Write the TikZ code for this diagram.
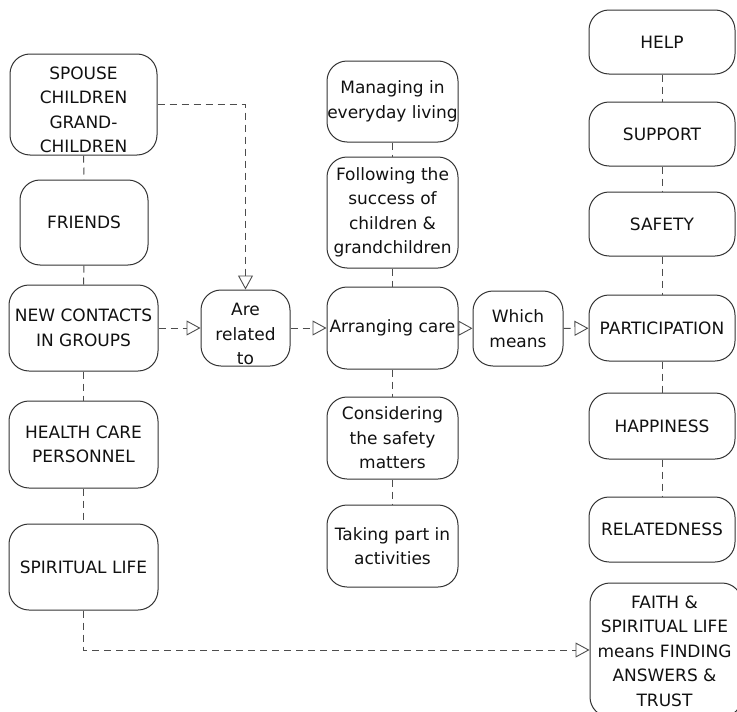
\documentclass[tikz,border=0pt]{standalone}
\usepackage{fontspec}
\setmainfont{DejaVu Sans}
\usetikzlibrary{arrows.meta}
\definecolor{boxc}{HTML}{333333}
\definecolor{linec}{HTML}{4D4D4D}
\definecolor{txtc}{HTML}{111111}
\begin{document}
\begin{tikzpicture}[x=1pt, y=-1pt,
  every node/.style={text=txtc, font=\fontsize{17}{24.5}\selectfont, align=center},
  box/.style={draw=boxc, line width=1pt, rounded corners=20pt, inner sep=0pt},
  label text/.style={inner sep=0pt},
  link/.style={draw=linec, line width=1pt, dash pattern=on 7pt off 5pt},
  arr/.style={link, -{Triangle[open, length=14pt, width=15pt, line width=0.9pt]}}]
\useasboundingbox (0,0) rectangle (737,712);
\clip (0,0) rectangle (737,712);

% left column: relations
\node[box, minimum width=147, minimum height=101] (spouse) at (83.5,104.5) {};
\node[label text] (spouse-t) at (83.5,110) {SPOUSE\\CHILDREN\\GRAND-\\CHILDREN};
\node[box, minimum width=128, minimum height=85] (friends) at (84,222.5) {FRIENDS};
\node[box, minimum width=149, minimum height=86] (contacts) at (83.5,328) {NEW CONTACTS\\IN GROUPS};
\node[box, minimum width=149, minimum height=87] (health) at (83.5,444.5) {HEALTH CARE\\PERSONNEL};
\node[box, minimum width=149, minimum height=86] (spiritual) at (83.5,567) {SPIRITUAL LIFE};

% linking boxes
\node[box, minimum width=89, minimum height=76] (related) at (245.5,328) {};
\node[label text] (related-t) at (245.5,334) {Are\\related\\to};
\node[box, minimum width=90, minimum height=75] (which) at (518,328.5) {Which\\means};

% middle column: activities
\node[box, minimum width=131, minimum height=81] (managing) at (392.5,101.5) {Managing in\\everyday living};
\node[box, minimum width=131, minimum height=111] (following) at (392.5,212.5) {Following the\\success of\\children \&\\grandchildren};
\node[box, minimum width=131, minimum height=82] (arranging) at (392.5,328) {Arranging care};
\node[box, minimum width=131, minimum height=82] (considering) at (392.5,438) {Considering\\the safety\\matters};
\node[box, minimum width=131, minimum height=82] (taking) at (392.5,546) {Taking part in\\activities};

% right column: meanings
\node[box, minimum width=146, minimum height=64] (help) at (662,42) {HELP};
\node[box, minimum width=146, minimum height=64] (support) at (662,134) {SUPPORT};
\node[box, minimum width=146, minimum height=64] (safety) at (662,224) {SAFETY};
\node[box, minimum width=146, minimum height=66] (participation) at (662,328) {PARTICIPATION};
\node[box, minimum width=146, minimum height=66] (happiness) at (662,426) {HAPPINESS};
\node[box, minimum width=146, minimum height=65] (relatedness) at (662,529.5) {RELATEDNESS};
\node[box, minimum width=152, minimum height=134] (faith) at (666,650) {};
\node[label text] (faith-t) at (664.5,651) {FAITH \&\\SPIRITUAL LIFE\\means FINDING\\ANSWERS \&\\TRUST};

% column links
\draw[link] (spouse) -- (friends);
\draw[link] (friends) -- (contacts);
\draw[link] (contacts) -- (health);
\draw[link] (health) -- (spiritual);
\draw[link] (managing) -- (following);
\draw[link] (following) -- (arranging);
\draw[link] (arranging) -- (considering);
\draw[link] (considering) -- (taking);
\draw[link] (help) -- (support);
\draw[link] (support) -- (safety);
\draw[link] (safety) -- (participation);
\draw[link] (participation) -- (happiness);
\draw[link] (happiness) -- (relatedness);

% flow arrows
\draw[arr] (spouse.east) -| (related.north);
\draw[arr] (contacts) -- (related);
\draw[arr] (related) -- (arranging);
\draw[arr] (arranging) -- (which);
\draw[arr] (which) -- (participation);
\draw[arr] (spiritual.south) |- (faith.west);
\end{tikzpicture}
\end{document}
